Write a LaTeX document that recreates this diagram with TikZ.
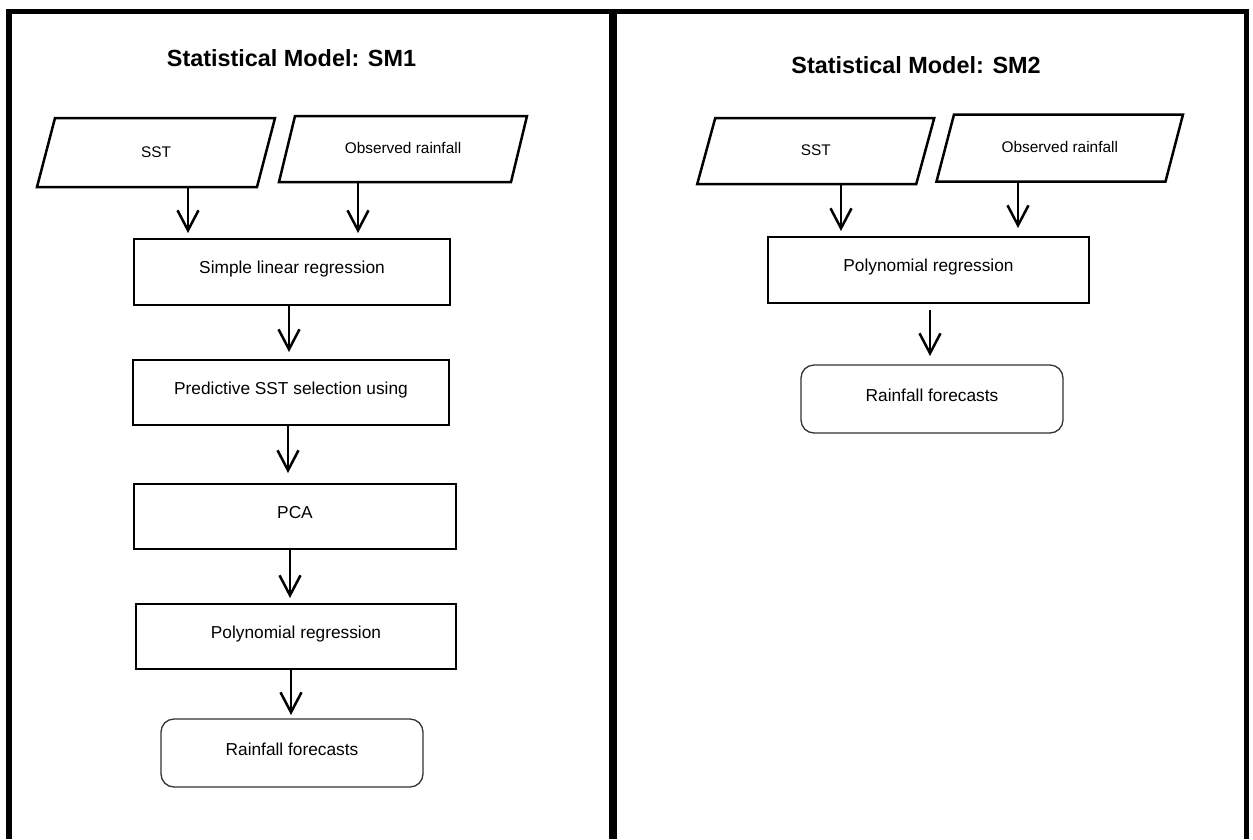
\documentclass[tikz,border=0pt]{standalone}
\usepackage{fontspec}
\setmainfont{Liberation Sans}
\usetikzlibrary{arrows.meta,calc}
\newcommand\mypara[2]{%
  \draw[para] ($(#1.north west)+(#2/2,0)$) -- ($(#1.north east)+(#2/2,0)$) --
    ($(#1.south east)+(-#2/2,0)$) -- ($(#1.south west)+(-#2/2,0)$) -- cycle;}
\begin{document}
\begin{tikzpicture}[x=1pt,y=-1pt,
  box/.style={draw, line width=2.5pt, rectangle, inner sep=0pt, outer sep=0pt,
    font=\fontsize{17.3}{20}\selectfont, text height=12pt, text depth=8.5pt},
  endbox/.style={draw=black!80, line width=1.3pt, rounded corners=13pt, rectangle,
    inner sep=0pt, outer sep=0pt, font=\fontsize{17.3}{20}\selectfont,
    text height=12pt, text depth=8pt},
  inbox/.style={draw=none, rectangle, inner sep=0pt, outer sep=0pt,
    font=\fontsize{15.4}{18}\selectfont, text height=11pt, text depth=2pt},
  para/.style={draw, line width=2.5pt, line join=miter},
  arr/.style={line width=2.5pt, -{Straight Barb[length=20pt,width=21pt]}},
  ttl/.style={font=\fontsize{23.4}{28}\selectfont\bfseries, anchor=base, inner sep=0pt},
  frame/.style={line width=5.5pt, line join=miter}
]
\useasboundingbox (0,0) rectangle (1253,839);
\fill[white] (0,0) rectangle (1253,839);

% frame
\draw[frame] (9,839) -- (9,11.5) -- (1246.5,11.5) -- (1246.5,839);
\draw[line width=8pt] (613,11.5) -- (613,839);

% titles
\node[ttl] (t1) at (291.5,66) {Statistical Model: SM1};
\node[ttl] (t2) at (916,73) {Statistical Model: SM2};

% ---------- SM1 ----------
\node[inbox, minimum width=220pt, minimum height=69pt] (sst1) at (156,152.5) {SST};
\mypara{sst1}{18}
\node[inbox, minimum width=232pt, minimum height=66pt] (obs1) at (403,149) {Observed rainfall};
\mypara{obs1}{16}

\node[box, minimum width=316pt, minimum height=66pt] (slr) at (292,272) {Simple linear regression};
\node[box, minimum width=316pt, minimum height=65pt] (pred) at (291,392.5) {Predictive SST selection using};
\node[box, minimum width=322pt, minimum height=65pt] (pca) at (295,516.5) {PCA};
\node[box, minimum width=320pt, minimum height=65pt] (poly1) at (296,636.5) {Polynomial regression};
\node[endbox, minimum width=262pt, minimum height=68pt] (rain1) at (292,753) {Rainfall forecasts};

\coordinate (xa) at (188,0);
\coordinate (xb) at (358,0);
\coordinate (xc) at (289,0);
\coordinate (xd) at (288,0);
\coordinate (xe) at (290,0);
\coordinate (xf) at (291,0);
\draw[arr, shorten >=6pt] (sst1.south -| xa) -- (slr.north -| xa);
\draw[arr, shorten >=6pt] (obs1.south -| xb) -- (slr.north -| xb);
\draw[arr, shorten >=8pt] (slr.south -| xc) -- (pred.north -| xc);
\draw[arr, shorten >=11pt] (pred.south -| xd) -- (pca.north -| xd);
\draw[arr, shorten >=6pt] (pca.south -| xe) -- (poly1.north -| xe);
\draw[arr, shorten >=4pt] (poly1.south -| xf) -- (rain1.north -| xf);

% ---------- SM2 ----------
\node[inbox, minimum width=219pt, minimum height=66pt] (sst2) at (815.75,151) {SST};
\mypara{sst2}{18}
\node[inbox, minimum width=229pt, minimum height=67pt] (obs2) at (1059.75,148) {Observed rainfall};
\mypara{obs2}{17.5}

\node[box, minimum width=321pt, minimum height=66pt] (poly2) at (928.5,270) {Polynomial regression};
\node[endbox, minimum width=262pt, minimum height=68pt] (rain2) at (932,399) {Rainfall forecasts};

\coordinate (xg) at (841,0);
\coordinate (xh) at (1018,0);
\coordinate (xi) at (930,0);
\draw[arr, shorten >=6pt] (sst2.south -| xg) -- (poly2.north -| xg);
\draw[arr, shorten >=9pt] (obs2.south -| xh) -- (poly2.north -| xh);
\draw[arr, shorten <=7pt, shorten >=9pt] (poly2.south -| xi) -- (rain2.north -| xi);
\end{tikzpicture}
\end{document}
